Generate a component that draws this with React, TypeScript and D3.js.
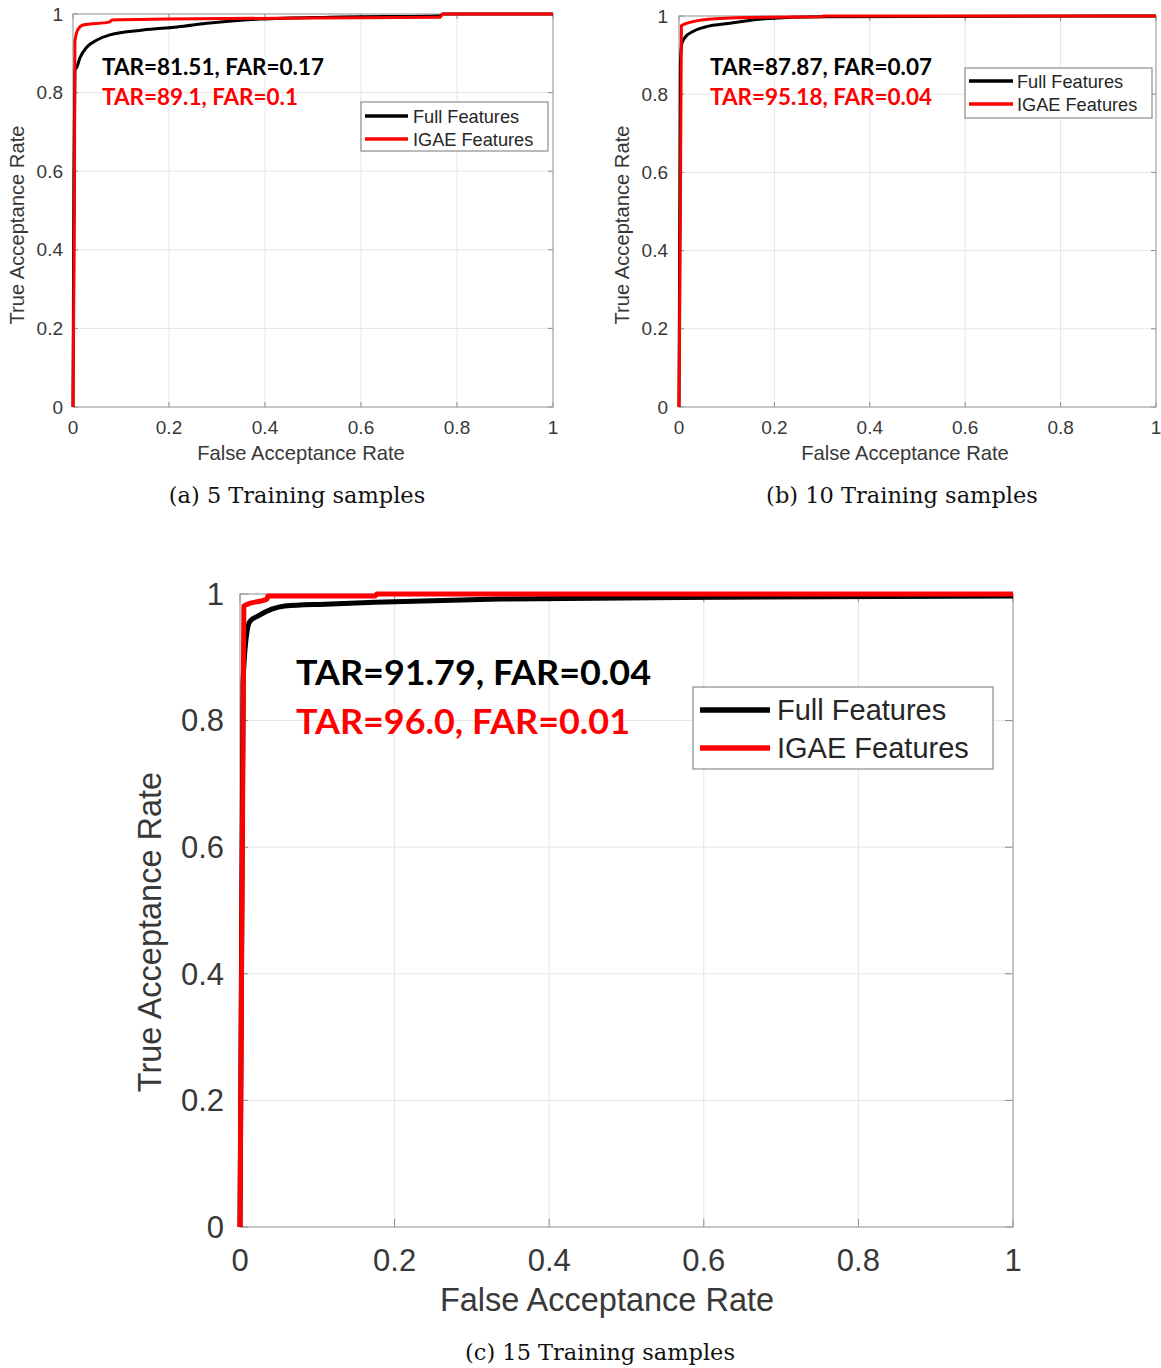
import React from "react";
import * as d3 from "d3";

// axis ticks shared by the three ROC plots
const farTicks = [0, 0.2, 0.4, 0.6, 0.8, 1];
const tarTicks = [0, 0.2, 0.4, 0.6, 0.8, 1];
const tickLabels = ["0", "0.2", "0.4", "0.6", "0.8", "1"];
const seriesNames = ["Full Features", "IGAE Features"];
const seriesColors = ["#000000", "#ff0000"];

// (a) 5 training samples
const fullFarA = [0, 0.002, 0.004, 0.008, 0.015, 0.029, 0.05, 0.077, 0.146, 0.217, 0.285, 0.39, 0.535, 0.765, 0.77, 1];
const fullTarA = [0, 0.6, 0.857, 0.865, 0.89, 0.916, 0.934, 0.947, 0.959, 0.967, 0.977, 0.987, 0.992, 0.995, 1, 1];
const igaeFarA = [0, 0.003, 0.004, 0.01, 0.021, 0.077, 0.081, 0.2, 0.5, 0.765, 0.77, 1];
const igaeTarA = [0, 0.5, 0.93, 0.96, 0.972, 0.98, 0.985, 0.987, 0.99, 0.992, 1, 1];

// (b) 10 training samples
const fullFarB = [0, 0.003, 0.006, 0.013, 0.027, 0.055, 0.11, 0.18, 0.3, 1];
const fullTarB = [0, 0.88, 0.93, 0.946, 0.959, 0.972, 0.982, 0.993, 0.998, 1];
const igaeFarB = [0, 0.003, 0.005, 0.027, 0.076, 0.18, 0.3, 0.302, 1];
const igaeTarB = [0, 0.5, 0.975, 0.985, 0.993, 0.997, 0.998, 1, 1];

// (c) 15 training samples
const fullFarC = [0, 0.004, 0.009, 0.013, 0.023, 0.041, 0.058, 0.11, 0.175, 0.336, 0.617, 1];
const fullTarC = [0, 0.86, 0.94, 0.957, 0.965, 0.976, 0.981, 0.984, 0.987, 0.992, 0.995, 0.997];
const igaeFarC = [0, 0.005, 0.01, 0.035, 0.036, 0.175, 0.177, 1];
const igaeTarC = [0, 0.981, 0.984, 0.992, 0.997, 0.997, 1, 1];

const captions = ["(a) 5 Training samples", "(b) 10 Training samples", "(c) 15 Training samples"];
const scoresFull = ["TAR=81.51, FAR=0.17", "TAR=87.87, FAR=0.07", "TAR=91.79, FAR=0.04"];
const scoresIgae = ["TAR=89.1, FAR=0.1", "TAR=95.18, FAR=0.04", "TAR=96.0, FAR=0.01"];

const axisFont = "'Liberation Sans', Arial, sans-serif";

// where each panel sits on the page
const panels = [
  {
    far: [fullFarA, igaeFarA], tar: [fullTarA, igaeTarA],
    left: 73, right: 553, top: 14, bottom: 407,
    fs: 19, labelFs: 20.2, lw: 3, tick: 5,
    yTickX: 63, xTickY: 434, yLabelX: 24, yLabelY: 225, xLabelX: 301, xLabelY: 460,
    legend: { x0: 361, y0: 102, x1: 548, y1: 151, lx0: 365, lx1: 408, tx: 413, rows: [116, 139], fs: 18.2 },
    ann: { x: 102, rows: [75, 105], fs: 23, widths: [222, 196] },
    caption: { x: 297, y: 503 },
  },
  {
    far: [fullFarB, igaeFarB], tar: [fullTarB, igaeTarB],
    left: 679, right: 1156, top: 16, bottom: 407,
    fs: 19, labelFs: 20.2, lw: 3, tick: 5,
    yTickX: 668, xTickY: 434, yLabelX: 629, yLabelY: 225, xLabelX: 905, xLabelY: 460,
    legend: { x0: 965, y0: 68, x1: 1152, y1: 118, lx0: 969, lx1: 1013, tx: 1017, rows: [81, 104], fs: 18.2 },
    ann: { x: 710, rows: [75, 105], fs: 23, widths: [222, 222] },
    caption: { x: 902, y: 503 },
  },
  {
    far: [fullFarC, igaeFarC], tar: [fullTarC, igaeTarC],
    left: 240, right: 1013, top: 594, bottom: 1227,
    fs: 31, labelFs: 32.5, lw: 5, tick: 8,
    yTickX: 224, xTickY: 1271, yLabelX: 161, yLabelY: 932, xLabelX: 607, xLabelY: 1311,
    legend: { x0: 693, y0: 687, x1: 993, y1: 769, lx0: 700, lx1: 770, tx: 777, rows: [710, 748], fs: 29 },
    ann: { x: 296, rows: [685, 734], fs: 35, widths: [355, 334] },
    caption: { x: 600, y: 1360 },
  },
];

function RocPanel({ p, idx }) {
  const x = d3.scaleLinear().domain([0, 1]).range([p.left, p.right]);
  const y = d3.scaleLinear().domain([0, 1]).range([p.bottom, p.top]);
  const line = d3.line().x((d) => x(d[0])).y((d) => y(d[1])).curve(d3.curveMonotoneX);

  return (
    <g>
      {/* grid */}
      {farTicks.slice(1, -1).map((t) => (
        <line key={"gx" + t} x1={x(t)} x2={x(t)} y1={p.top} y2={p.bottom} stroke="#e6e6e6" strokeWidth={1} />
      ))}
      {tarTicks.slice(1, -1).map((t) => (
        <line key={"gy" + t} x1={p.left} x2={p.right} y1={y(t)} y2={y(t)} stroke="#e6e6e6" strokeWidth={1} />
      ))}
      {/* ticks on all sides, pointing in */}
      {farTicks.map((t) => (
        <g key={"tx" + t} stroke="#8c8c8c">
          <line x1={x(t)} x2={x(t)} y1={p.bottom} y2={p.bottom - p.tick} />
          <line x1={x(t)} x2={x(t)} y1={p.top} y2={p.top + p.tick} />
        </g>
      ))}
      {tarTicks.map((t) => (
        <g key={"ty" + t} stroke="#8c8c8c">
          <line x1={p.left} x2={p.left + p.tick} y1={y(t)} y2={y(t)} />
          <line x1={p.right} x2={p.right - p.tick} y1={y(t)} y2={y(t)} />
        </g>
      ))}
      <rect x={p.left} y={p.top} width={p.right - p.left} height={p.bottom - p.top} fill="none" stroke="#a0a0a0" strokeWidth={1.2} />

      {/* roc curves, red on top */}
      {[0, 1].map((s) => (
        <path
          key={"c" + s}
          d={line(p.far[s].map((f, i) => [f, p.tar[s][i]]))}
          fill="none"
          stroke={seriesColors[s]}
          strokeWidth={p.lw}
          strokeLinejoin="round"
        />
      ))}

      {/* tick labels */}
      <g fontFamily={axisFont} fontSize={p.fs} fill="#383838">
        {farTicks.map((t, i) => (
          <text key={"lx" + t} x={x(t)} y={p.xTickY} textAnchor="middle">{tickLabels[i]}</text>
        ))}
        {tarTicks.map((t, i) => (
          <text key={"ly" + t} x={p.yTickX} y={y(t) + p.fs * 0.35} textAnchor="end">{tickLabels[i]}</text>
        ))}
      </g>
      <g fontFamily={axisFont} fontSize={p.labelFs} fill="#383838">
        <text x={p.xLabelX} y={p.xLabelY} textAnchor="middle">False Acceptance Rate</text>
        <text transform={`translate(${p.yLabelX},${p.yLabelY}) rotate(-90)`} textAnchor="middle">True Acceptance Rate</text>
      </g>

      {/* scores */}
      <g fontFamily="Lato, 'Open Sans', sans-serif" fontWeight="bold" fontSize={p.ann.fs}>
        <text x={p.ann.x} y={p.ann.rows[0]} fill="#000" textLength={p.ann.widths[0]} lengthAdjust="spacingAndGlyphs">{scoresFull[idx]}</text>
        <text x={p.ann.x} y={p.ann.rows[1]} fill="#ff0000" textLength={p.ann.widths[1]} lengthAdjust="spacingAndGlyphs">{scoresIgae[idx]}</text>
      </g>

      {/* legend */}
      <rect x={p.legend.x0} y={p.legend.y0} width={p.legend.x1 - p.legend.x0} height={p.legend.y1 - p.legend.y0} fill="#fff" stroke="#8c8c8c" strokeWidth={1.2} />
      {seriesNames.map((name, s) => (
        <g key={name}>
          <line x1={p.legend.lx0} x2={p.legend.lx1} y1={p.legend.rows[s]} y2={p.legend.rows[s]} stroke={seriesColors[s]} strokeWidth={p.lw + 0.5} />
          <text x={p.legend.tx} y={p.legend.rows[s] + p.legend.fs * 0.36} fontFamily={axisFont} fontSize={p.legend.fs} fill="#262626">{name}</text>
        </g>
      ))}

      <text x={p.caption.x} y={p.caption.y} textAnchor="middle" fontFamily="'DejaVu Serif', serif" fontSize={22.5} fill="#111">{captions[idx]}</text>
    </g>
  );
}

export default function App() {
  return (
    <svg width={1161} height={1368} style={{ position: "absolute", left: 0, top: 0, background: "#fff" }}>
      <rect width={1161} height={1368} fill="#fff" />
      {panels.map((p, i) => (
        <RocPanel key={i} p={p} idx={i} />
      ))}
    </svg>
  );
}
